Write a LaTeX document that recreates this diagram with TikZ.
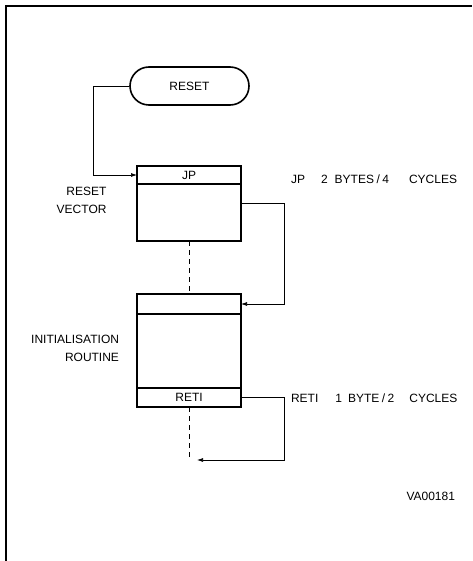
\documentclass[tikz,border=0pt]{standalone}
\usepackage{fontspec}
\setmainfont{Liberation Sans}
\usetikzlibrary{arrows.meta,shapes.misc}
\begin{document}
\begin{tikzpicture}[x=1pt,y=-1pt,
  boxo/.style={draw,line width=1.6pt,minimum width=104pt,inner sep=0pt,outer sep=0pt,font=\fontsize{12}{14}\selectfont},
  term/.style={draw,line width=1.6pt,rounded rectangle,minimum width=119pt,minimum height=38pt,inner sep=0pt,font=\fontsize{12}{14}\selectfont},
  conn/.style={line width=0.7pt,-{Latex[length=6pt,width=4pt]}},
  dline/.style={line width=0.7pt,dash pattern=on 5pt off 4pt},
  lbl/.style={inner sep=0pt,outer sep=0pt,font=\fontsize{12}{18}\selectfont}]
\useasboundingbox (0,0) rectangle (472,561);
\draw[line width=1.5pt] (6,561) -- (6,6) -- (472,6);
\node[term] (reset) at (189.5,86) {RESET};
\node[boxo,minimum height=75pt] (b1) at (189,203.5) {};
\node[boxo,minimum height=18pt] (jp) at (189,175) {JP};
\node[boxo,minimum height=113pt] (b2) at (189,350.5) {};
\node[boxo,minimum height=20pt] (h2) at (189,304) {};
\node[boxo,minimum height=19pt] (reti) at (189,397.5) {RETI};
\coordinate (retend) at (197,460);
\coordinate (dend) at (189,460);
\draw[conn] (reset.west) -- ++(-36,0) |- (jp.west);
\draw[conn] (b1.east) -- ++(43,0) |- (h2.east);
\draw[dline] (b1.south) -- (h2.north);
\draw[conn] (reti.east) -- ++(43,0) |- (retend);
\draw[dline] (reti.south) -- (dend);
\node[lbl,anchor=north east,align=right] (rv) at (106.5,187.5) {RESET\\VECTOR};
\node[lbl,anchor=north east,align=right] (ir) at (119,335.5) {INITIALISATION\\ROUTINE};
\node[lbl,anchor=base west] (jptxt) at (291,184) {JP\hspace{16pt}2\hspace{7pt}BYTES\hspace{2.5pt}/\hspace{2.5pt}4\hspace{20pt}CYCLES};
\node[lbl,anchor=base west] (retitxt) at (291,402) {RETI\hspace{17pt}1\hspace{6pt}BYTE\hspace{2.5pt}/\hspace{2.5pt}2\hspace{15pt}CYCLES};
\node[lbl,anchor=base east] (va) at (455,500) {VA00181};
\end{tikzpicture}
\end{document}
